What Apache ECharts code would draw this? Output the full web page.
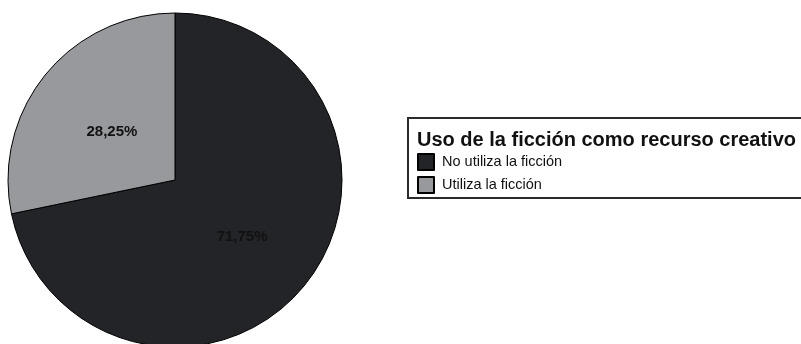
<!DOCTYPE html>
<html>
<head>
<meta charset="utf-8">
<script src="https://cdn.jsdelivr.net/npm/echarts@6/dist/echarts.min.js"></script>
<style>
  html, body { margin: 0; padding: 0; background: #ffffff; }
  #chart { width: 801px; height: 344px; }
</style>
</head>
<body>
<div id="chart"></div>
<script>
// Categories and shares (percent) of the pie
const categories = ['No utiliza la ficción', 'Utiliza la ficción'];
const shares = [71.75, 28.25];
const sliceColors = ['#232427', '#98999d'];
const legendTitle = 'Uso de la ficción como recurso creativo';

const chart = echarts.init(document.getElementById('chart'), null, { renderer: 'canvas' });

const fmt = v => v.toFixed(2).replace('.', ',') + '%';
const labelOffsets = [[0, 2], [4, 6]];

chart.setOption({
  animation: false,
  backgroundColor: '#ffffff',
  title: {
    text: legendTitle,
    left: 417,
    top: 130,
    padding: 0,
    textStyle: {
      fontFamily: 'Liberation Sans, Arial, sans-serif',
      fontSize: 20,
      fontWeight: 'bold',
      color: '#111111'
    }
  },
  legend: {
    orient: 'vertical',
    left: 417,
    top: 153,
    padding: 0,
    itemWidth: 16,
    itemHeight: 16,
    itemGap: 5,
    icon: 'rect',
    data: categories,
    textStyle: {
      fontFamily: 'Liberation Sans, Arial, sans-serif',
      fontSize: 14.5,
      color: '#111111',
      padding: [0, 0, 0, 3]
    }
  },
  graphic: [{
    type: 'rect',
    shape: { x: 408, y: 118, width: 420, height: 80 },
    style: { fill: 'none', stroke: '#2a2a2a', lineWidth: 2 },
    z: -1
  }],
  series: [{
    type: 'pie',
    center: [175, 180],
    radius: [0, 167],
    startAngle: 90,
    clockwise: true,
    avoidLabelOverlap: false,
    label: {
      show: true,
      position: 'inside',
      formatter: p => fmt(p.value),
      fontFamily: 'Liberation Sans, Arial, sans-serif',
      fontSize: 15,
      fontWeight: 'bold',
      color: '#111111'
    },
    labelLine: { show: false },
    emphasis: { disabled: true },
    itemStyle: { borderColor: '#000000', borderWidth: 1 },
    data: categories.map((name, i) => ({
      name: name,
      value: shares[i],
      itemStyle: { color: sliceColors[i] },
      label: { offset: labelOffsets[i] }
    }))
  }]
});
</script>
</body>
</html>
